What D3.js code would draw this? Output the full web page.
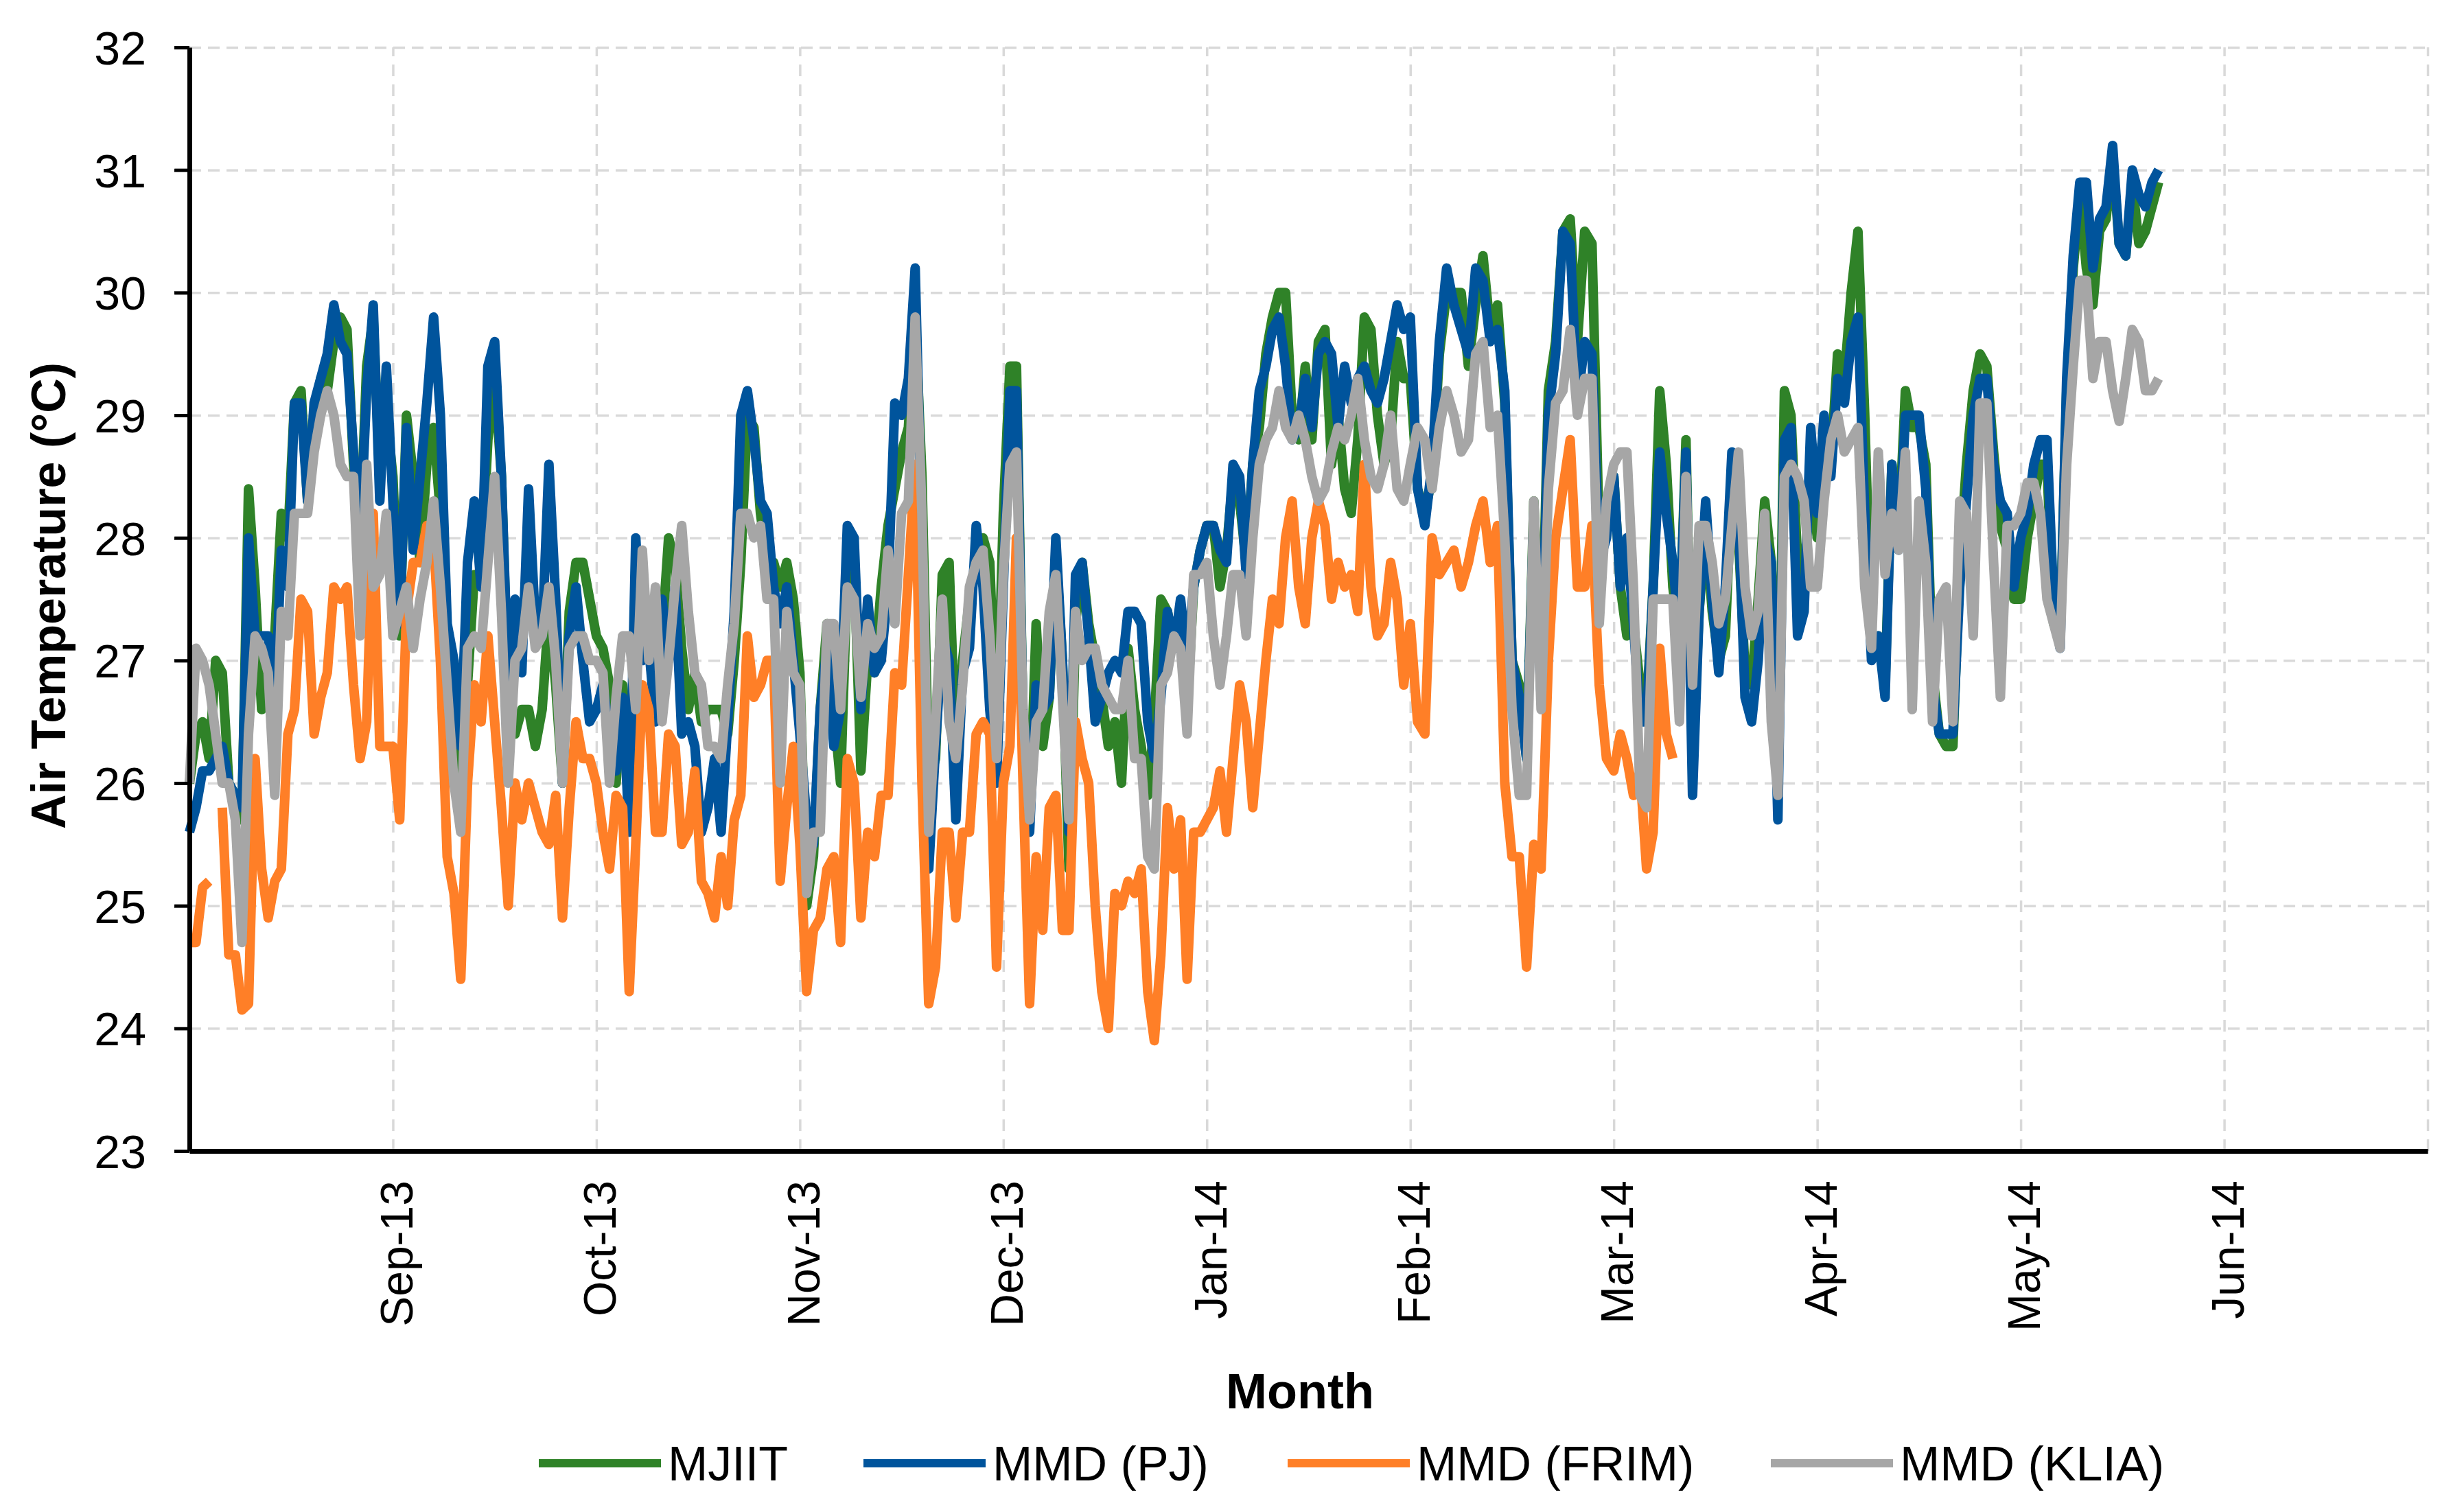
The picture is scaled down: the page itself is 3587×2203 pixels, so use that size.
<!DOCTYPE html>
<html>
<head>
<meta charset="utf-8">
<script src="https://cdn.jsdelivr.net/npm/d3@7"></script>
<style>
    body { margin: 0; background: #fff; }
    svg text { font-family: "Liberation Sans", Arial, sans-serif; fill: #000; }
</style>
</head>
<body>
<div id="chart"></div>
<script>
// daily mean air temperature (°C), first value = 1 Aug 2013, one value per day
const startDate = new Date(2013, 7, 1);

const seriesNames = ["MJIIT", "MMD (PJ)", "MMD (FRIM)", "MMD (KLIA)"];
const monthLabels = ["Sep-13", "Oct-13", "Nov-13", "Dec-13", "Jan-14", "Feb-14", "Mar-14", "Apr-14", "May-14", "Jun-14"];
const yTicks = [23, 24, 25, 26, 27, 28, 29, 30, 31, 32];

const mjiit = [
    // Aug
    26.0, 26.4, 26.5, 26.2, 27.0, 26.9, 26.0, 25.9, 25.7, 28.4, 27.6, 26.6, 27.0, 27.2, 28.2, 28.0, 29.1, 29.2, 28.3, 28.9, 29.3, 29.2, 29.6, 29.8, 29.7, 28.6, 28.0, 29.4, 29.8, 28.5, 29.0,
    // Sep
    28.5, 27.2, 29.0, 28.5, 27.8, 28.6, 28.9, 28.2, 27.0, 26.2, 26.0, 26.8, 27.7, 27.7, 28.8, 29.3, 28.5, 26.7, 26.4, 26.6, 26.6, 26.3, 26.6, 27.4, 26.8, 26.0, 27.4, 27.8, 27.8, 27.5,
    // Oct
    27.2, 27.1, 26.8, 26.0, 26.8, 26.2, 27.0, 27.2, 27.1, 26.6, 27.2, 28.0, 27.8, 27.1, 26.6, 26.9, 26.5, 26.6, 26.6, 26.6, 26.4, 27.0, 27.8, 29.0, 28.9, 28.2, 27.8, 27.8, 27.6, 27.8, 27.5,
    // Nov
    26.9, 25.0, 25.4, 26.6, 27.3, 26.6, 26.0, 27.7, 27.8, 26.1, 27.0, 26.9, 27.6, 28.1, 28.4, 28.7, 28.9, 29.8, 28.5, 26.0, 26.2, 27.7, 27.8, 26.2, 27.0, 27.5, 27.8, 28.0, 27.8, 26.3,
    // Dec
    28.2, 29.4, 29.4, 26.5, 25.7, 27.3, 26.3, 26.7, 27.9, 27.0, 25.3, 27.3, 27.8, 27.3, 27.0, 26.7, 26.3, 26.5, 26.0, 27.1, 26.6, 26.3, 25.9, 26.5, 27.5, 27.4, 27.1, 27.4, 26.6, 27.6, 27.9,
    // Jan
    28.1, 28.1, 27.6, 27.9, 28.5, 28.3, 27.8, 28.6, 28.9, 29.5, 29.8, 30.0, 30.0, 29.0, 28.8, 29.4, 28.8, 29.6, 29.7, 28.6, 29.0, 28.4, 28.2, 28.8, 29.8, 29.7, 29.0, 28.6, 28.8, 29.6, 29.3,
    // Feb
    29.3, 28.4, 28.2, 28.5, 29.5, 30.0, 30.0, 30.0, 29.4, 29.9, 30.3, 29.7, 29.9, 29.1, 27.0, 26.8, 26.2, 28.3, 26.8, 29.2, 29.6, 30.5, 30.6, 29.6, 30.5, 30.4, 28.0, 28.3,
    // Mar
    28.5, 27.6, 27.2, 27.3, 26.8, 26.6, 27.6, 29.2, 28.6, 27.6, 27.2, 28.8, 26.2, 27.4, 28.1, 27.4, 27.0, 27.2, 28.5, 28.0, 26.9, 26.8, 27.5, 28.3, 27.8, 26.0, 29.2, 29.0, 27.8, 27.6, 28.6,
    // Apr
    28.0, 28.7, 28.6, 29.5, 29.3, 30.0, 30.5, 29.0, 27.1, 27.2, 26.8, 28.6, 28.0, 29.2, 28.9, 28.9, 28.6, 26.9, 26.4, 26.3, 26.3, 27.8, 28.6, 29.2, 29.5, 29.4, 28.7, 28.1, 27.9, 27.5,
    // May
    27.5, 28.0, 28.3, 28.6, 28.6, 27.3, 27.2, 29.2, 30.2, 30.8, 30.2, 29.9, 30.5, 30.6, 31.1, 30.4, 30.3, 30.9, 30.4, 30.5, 30.7, 30.9
];

const mmdPJ = [
    // Aug
    25.6, 25.8, 26.1, 26.1, 26.2, 26.3, 26.0, 25.9, 25.8, 28.0, 27.2, 27.2, 27.2, 26.6, 27.9, 27.6, 29.1, 29.1, 28.3, 29.1, 29.3, 29.5, 29.9, 29.6, 29.5, 28.7, 28.0, 29.2, 29.9, 28.3, 29.4,
    // Sep
    28.3, 27.3, 28.9, 27.9, 28.5, 29.1, 29.8, 29.0, 27.3, 27.0, 26.3, 27.8, 28.3, 27.6, 29.4, 29.6, 28.5, 26.8, 27.5, 26.9, 28.4, 27.3, 27.2, 28.6, 27.5, 26.0, 27.2, 27.6, 27.0, 26.5,
    // Oct
    26.6, 26.8, 26.4, 26.1, 26.7, 25.6, 28.0, 27.0, 27.1, 26.5, 27.5, 27.0, 27.6, 26.4, 26.5, 26.3, 25.6, 25.8, 26.2, 25.6, 26.5, 27.4, 29.0, 29.2, 28.8, 28.3, 28.2, 27.6, 27.3, 27.6, 27.0,
    // Nov
    26.4, 25.7, 25.5, 26.6, 27.1, 26.3, 26.6, 28.1, 28.0, 26.6, 27.5, 26.9, 27.0, 27.6, 29.1, 29.0, 29.3, 30.2, 28.0, 25.3, 26.3, 27.2, 27.0, 25.7, 26.9, 27.1, 28.1, 27.6, 26.6, 26.0,
    // Dec
    27.6, 29.2, 29.2, 26.5, 25.6, 26.8, 26.6, 26.7, 28.0, 27.0, 25.6, 27.7, 27.8, 27.2, 26.5, 26.7, 26.9, 27.0, 26.9, 27.4, 27.4, 27.3, 26.5, 26.2, 26.7, 27.4, 27.1, 27.5, 27.0, 27.6, 27.9,
    // Jan
    28.1, 28.1, 27.9, 27.8, 28.6, 28.5, 27.7, 28.6, 29.2, 29.4, 29.7, 29.8, 29.4, 28.8, 28.9, 29.3, 28.9, 29.5, 29.6, 29.5, 28.9, 29.4, 29.1, 29.3, 29.4, 29.2, 29.1, 29.3, 29.6, 29.9, 29.7,
    // Feb
    29.8, 28.4, 28.1, 28.6, 29.6, 30.2, 29.9, 29.7, 29.5, 30.2, 30.1, 29.6, 29.7, 29.2, 27.0, 26.7, 26.2, 28.2, 26.7, 29.0, 29.5, 30.5, 30.4, 29.1, 29.6, 29.5, 27.8, 28.0,
    // Mar
    28.5, 27.6, 28.0, 27.3, 26.5, 26.5, 27.6, 28.7, 28.2, 27.8, 27.2, 28.7, 25.9, 27.4, 28.3, 27.5, 26.9, 27.6, 28.7, 28.2, 26.7, 26.5, 27.0, 28.0, 27.8, 25.7, 28.8, 28.9, 27.2, 27.4, 28.9,
    // Apr
    28.2, 29.0, 28.5, 29.3, 29.1, 29.6, 29.8, 28.2, 27.0, 27.2, 26.7, 28.6, 27.9, 29.0, 29.0, 29.0, 28.4, 26.8, 26.4, 26.4, 26.4, 27.6, 28.3, 29.0, 29.3, 29.3, 28.6, 28.3, 28.2, 27.6,
    // May
    28.0, 28.2, 28.6, 28.8, 28.8, 27.5, 27.1, 29.3, 30.3, 30.9, 30.9, 30.2, 30.6, 30.7, 31.2, 30.4, 30.3, 31.0, 30.8, 30.7, 30.9, 31.0
];

const mmdFRIM = [
    // Aug (no reading on 5 Aug)
    24.7, 24.7, 25.15, 25.2, null, 25.8, 24.6, 24.6, 24.15, 24.2, 26.2, 25.3, 24.9, 25.2, 25.3, 26.4, 26.6, 27.5, 27.4, 26.4, 26.7, 26.9, 27.6, 27.5, 27.6, 26.8, 26.2, 26.5, 28.2, 26.3, 26.3,
    // Sep
    26.3, 25.7, 27.4, 27.8, 27.8, 28.1, 28.0, 27.0, 25.4, 25.1, 24.4, 26.0, 26.8, 26.5, 27.2, 26.5, 25.8, 25.0, 26.0, 25.7, 26.0, 25.8, 25.6, 25.5, 25.9, 24.9, 25.8, 26.5, 26.2, 26.2,
    // Oct
    26.0, 25.6, 25.3, 25.9, 25.8, 24.3, 25.5, 26.8, 26.6, 25.6, 25.6, 26.4, 26.3, 25.5, 25.6, 26.1, 25.2, 25.1, 24.9, 25.4, 25.0, 25.7, 25.9, 27.2, 26.7, 26.8, 27.0, 27.0, 25.2, 25.8, 26.3,
    // Nov
    25.5, 24.3, 24.8, 24.9, 25.3, 25.4, 24.7, 26.2, 26.0, 24.9, 25.6, 25.4, 25.9, 25.9, 26.9, 26.8, 27.7, 28.6, 26.0, 24.2, 24.5, 25.6, 25.6, 24.9, 25.6, 25.6, 26.4, 26.5, 26.4, 24.5,
    // Dec
    26.0, 26.3, 28.0, 26.0, 24.2, 25.4, 24.8, 25.8, 25.9, 24.8, 24.8, 26.5, 26.2, 26.0, 25.0, 24.3, 24.0, 25.1, 25.0, 25.2, 25.1, 25.3, 24.3, 23.9, 24.6, 25.8, 25.3, 25.7, 24.4, 25.6, 25.6,
    // Jan
    25.7, 25.8, 26.1, 25.6, 26.2, 26.8, 26.5, 25.8, 26.4, 27.0, 27.5, 27.3, 28.0, 28.3, 27.6, 27.3, 28.0, 28.3, 28.1, 27.5, 27.8, 27.6, 27.7, 27.4, 28.6, 27.6, 27.2, 27.3, 27.8, 27.5, 26.8,
    // Feb
    27.3, 26.5, 26.4, 28.0, 27.7, 27.8, 27.9, 27.6, 27.8, 28.1, 28.3, 27.8, 28.1, 26.0, 25.4, 25.4, 24.5, 25.5, 25.3, 27.0, 28.0, 28.4, 28.8, 27.6, 27.6, 28.1, 26.8, 26.2,
    // Mar (record stops on 10 Mar)
    26.1, 26.4, 26.2, 25.9, 26.1, 25.3, 25.6, 27.1, 26.4, 26.2
];

const mmdKLIA = [
    // Aug
    26.0, 27.1, 27.0, 26.8, 26.4, 26.0, 26.0, 25.7, 24.7, 26.4, 27.2, 27.1, 26.9, 25.9, 27.4, 27.2, 28.2, 28.2, 28.2, 28.7, 29.0, 29.2, 29.0, 28.6, 28.5, 28.5, 27.2, 28.6, 27.6, 27.7, 28.2,
    // Sep
    27.2, 27.4, 27.6, 27.1, 27.5, 27.8, 28.3, 27.6, 26.8, 26.0, 25.6, 27.1, 27.2, 27.1, 27.8, 28.5, 27.4, 26.0, 27.0, 27.1, 27.6, 27.1, 27.2, 27.6, 27.0, 26.0, 27.1, 27.2, 27.2, 27.0,
    // Oct
    27.0, 26.9, 26.0, 26.7, 27.2, 27.2, 26.6, 27.9, 27.0, 27.6, 26.5, 27.0, 27.6, 28.1, 27.4, 26.9, 26.8, 26.3, 26.3, 26.2, 26.8, 27.3, 28.2, 28.2, 28.0, 28.1, 27.5, 27.5, 26.0, 27.4, 26.9,
    // Nov
    26.8, 25.1, 25.6, 25.6, 27.3, 27.3, 26.6, 27.6, 27.5, 26.7, 27.3, 27.1, 27.2, 27.9, 27.3, 28.2, 28.3, 29.8, 28.2, 25.6, 26.5, 27.5, 26.5, 26.2, 26.8, 27.6, 27.8, 27.9, 27.2, 26.2,
    // Dec
    27.7, 28.6, 28.7, 26.6, 25.7, 26.5, 26.6, 27.4, 27.7, 26.7, 25.7, 27.4, 27.0, 27.1, 27.1, 26.8, 26.7, 26.6, 26.6, 27.0, 26.2, 26.2, 25.4, 25.3, 26.8, 26.9, 27.2, 27.1, 26.4, 27.7, 27.7,
    // Jan
    27.8, 27.2, 26.8, 27.2, 27.7, 27.7, 27.2, 28.0, 28.6, 28.8, 28.9, 29.2, 28.9, 28.8, 29.0, 28.8, 28.5, 28.3, 28.4, 28.7, 28.9, 28.8, 29.0, 29.3, 28.8, 28.5, 28.4, 28.6, 29.0, 28.4, 28.3,
    // Feb
    28.6, 28.9, 28.8, 28.4, 28.9, 29.2, 29.0, 28.7, 28.8, 29.5, 29.6, 28.9, 29.0, 28.0, 26.6, 25.9, 25.9, 28.3, 26.6, 28.4, 29.1, 29.2, 29.7, 29.0, 29.3, 29.3, 27.3, 28.3,
    // Mar
    28.6, 28.7, 28.7, 27.6, 25.9, 25.8, 27.5, 27.5, 27.5, 27.5, 26.5, 28.5, 26.8, 28.1, 28.1, 27.8, 27.3, 27.5, 28.1, 28.7, 27.6, 27.2, 27.4, 28.2, 26.5, 25.9, 28.5, 28.6, 28.5, 28.3, 27.6,
    // Apr
    27.6, 28.3, 28.8, 29.0, 28.7, 28.8, 28.9, 27.6, 27.1, 28.7, 27.7, 28.2, 27.9, 28.7, 26.6, 28.3, 27.8, 26.5, 27.5, 27.6, 26.5, 28.3, 28.2, 27.2, 29.1, 29.1, 27.8, 26.7, 28.1, 28.1,
    // May
    28.2, 28.45, 28.45, 28.2, 27.5, 27.3, 27.1, 28.6, 29.4, 30.1, 30.1, 29.3, 29.6, 29.6, 29.2, 28.95, 29.3, 29.7, 29.6, 29.2, 29.2, 29.3
];

const seriesValues = [mjiit, mmdPJ, mmdFRIM, mmdKLIA];
const seriesColors = ["#2f8228", "#00549c", "#ff7f27", "#a6a6a6"];

// ---- layout ----
const W = 3587, H = 2203;
const plotLeft = 276, plotRight = 3537, plotTop = 69, plotBottom = 1677;
const plotW = plotRight - plotLeft, plotH = plotBottom - plotTop;

const svg = d3.select("#chart")
    .append("svg")
    .attr("width", W)
    .attr("height", H)
    .style("background-color", "white");

const g = svg.append("g")
    .attr("transform", "translate(" + plotLeft + ", " + plotTop + ")");

// months are drawn with equal width (Aug-13 .. Jul-14)
const monthStarts = d3.timeMonth.range(new Date(2013, 7, 1), new Date(2014, 6, 2));
const x = d3.scaleTime()
    .domain(monthStarts)
    .range(monthStarts.map((d, i) => i * plotW / (monthStarts.length - 1)));

const y = d3.scaleLinear()
    .domain([23, 32])
    .range([plotH, 0]);

// grid
g.append("g")
    .attr("class", "grid yGrid")
    .call(d3.axisLeft(y).tickValues(yTicks.slice(1)).tickSize(-plotW).tickFormat(""))
    .call(s => s.select(".domain").remove())
    .selectAll(".tick line")
    .attr("stroke", "#d9d9d9")
    .attr("stroke-width", 3.5)
    .attr("stroke-dasharray", "17,10");

g.append("g")
    .attr("class", "grid xGrid")
    .attr("transform", "translate(0, " + plotH + ")")
    .call(d3.axisBottom(x).tickValues(monthStarts.slice(1)).tickSize(-plotH).tickFormat(""))
    .call(s => s.select(".domain").remove())
    .selectAll(".tick line")
    .attr("stroke", "#d9d9d9")
    .attr("stroke-width", 3.5)
    .attr("stroke-dasharray", "17,12");

// series
const line = d3.line()
    .defined(d => d.value != null)
    .x(d => x(d.date))
    .y(d => y(d.value));

seriesValues.forEach(function (values, k) {
    let data = values.map((v, i) => ({ date: d3.timeDay.offset(startDate, i), value: v }));
    g.append("path")
        .datum(data)
        .attr("class", "series")
        .attr("fill", "none")
        .attr("stroke", seriesColors[k])
        .attr("stroke-width", 14)
        .attr("stroke-linejoin", "round")
        .attr("d", line);
});

// axes
const yAxis = g.append("g")
    .attr("class", "axis yAxis")
    .call(d3.axisLeft(y).tickValues(yTicks).tickSize(22).tickSizeOuter(0).tickPadding(41));
yAxis.select(".domain").attr("stroke", "#000").attr("stroke-width", 7);
yAxis.selectAll(".tick line").attr("stroke", "#000").attr("stroke-width", 5);
yAxis.selectAll(".tick text").style("font-size", "68px").attr("dy", "0.36em");

const xAxis = g.append("g")
    .attr("class", "axis xAxis")
    .attr("transform", "translate(0, " + plotH + ")")
    .call(d3.axisBottom(x).tickValues(monthStarts.slice(1, 11)).tickSize(0).tickSizeOuter(0)
        .tickFormat((d, i) => monthLabels[i]));
xAxis.select(".domain").attr("stroke", "#000").attr("stroke-width", 7);
xAxis.selectAll(".tick text")
    .style("font-size", "66px")
    .attr("text-anchor", "end")
    .attr("transform", "rotate(-90)")
    .attr("x", -43)
    .attr("y", 4)
    .attr("dy", "0.36em");

// axis titles
svg.append("text")
    .attr("transform", "translate(95, 868) rotate(-90)")
    .attr("text-anchor", "middle")
    .style("font-size", "70px")
    .style("font-weight", "bold")
    .text("Air Temperature (°C)");

svg.append("text")
    .attr("x", 1894)
    .attr("y", 2052)
    .attr("text-anchor", "middle")
    .style("font-size", "72px")
    .style("font-weight", "bold")
    .text("Month");

// legend
const legendX = [785, 1258, 1876, 2580];
const legend = svg.append("g").attr("class", "legend");
seriesNames.forEach(function (name, k) {
    legend.append("line")
        .attr("x1", legendX[k])
        .attr("x2", legendX[k] + 178)
        .attr("y1", 2132)
        .attr("y2", 2132)
        .attr("stroke", seriesColors[k])
        .attr("stroke-width", 12);
    legend.append("text")
        .attr("x", legendX[k] + 188)
        .attr("y", 2132)
        .attr("dy", "0.36em")
        .style("font-size", "70px")
        .text(name);
});
</script>
</body>
</html>
